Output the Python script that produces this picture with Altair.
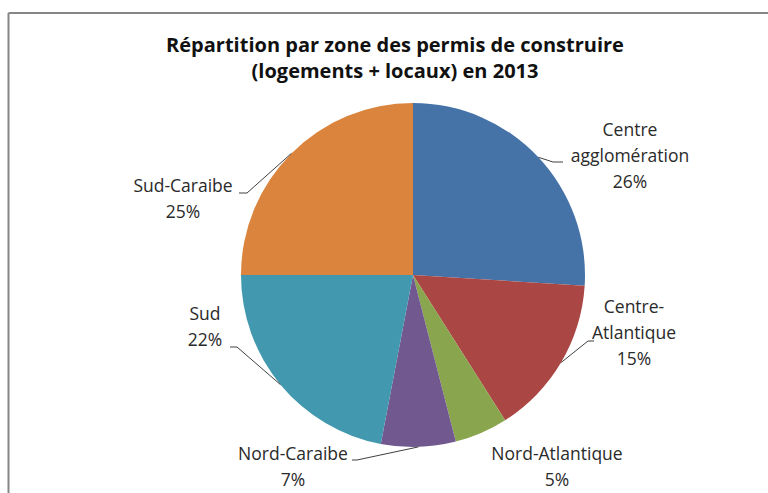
import math

import altair as alt
import pandas as pd

# ---- data -------------------------------------------------------------
zones = [
    "Centre agglomération",
    "Centre-Atlantique",
    "Nord-Atlantique",
    "Nord-Caraibe",
    "Sud",
    "Sud-Caraibe",
]
label_lines = [
    ["Centre", "agglomération"],
    ["Centre-", "Atlantique"],
    ["Nord-Atlantique"],
    ["Nord-Caraibe"],
    ["Sud"],
    ["Sud-Caraibe"],
]
shares = [26, 15, 5, 7, 22, 25]
colors = ["#4572A7", "#AA4643", "#89A54E", "#71588F", "#4198AF", "#DB843D"]
title_lines = ["Répartition par zone des permis de construire", "(logements + locaux) en 2013"]

# ---- layout -----------------------------------------------------------
W, H = 768, 493
CX, CY, R = 413, 275, 172
FONT = "Open Sans"
LINE_H = 26

# label block centres, relative to the pie centre
label_offset = {
    "Centre agglomération": (217, -118),
    "Centre-Atlantique": (221, 59),
    "Nord-Atlantique": (144, 193),
    "Nord-Caraibe": (-120, 193),
    "Sud": (-208, 53),
    "Sud-Caraibe": (-230, -75),
}
# leader elbow and end points, relative to the pie centre
leader_path = {
    "Centre agglomération": [(140, -113), (150, -113)],
    "Centre-Atlantique": [(175, 66), (181, 66)],
    "Nord-Caraibe": [(-56, 185), (-61, 185)],
    "Sud": [(-176, 72), (-183, 72)],
    "Sud-Caraibe": [(-166, -82), (-174, -82)],
}

# ---- tables -----------------------------------------------------------
total = sum(shares)
slices = pd.DataFrame({"zone": zones, "share": shares, "order": range(len(zones))})

labels = []
for z, lines, s in zip(zones, label_lines, shares):
    dx, dy = label_offset[z]
    text_lines = lines + [f"{s}%"]
    # the first line sits at y; shift so the block is centred on the anchor
    first_y = CY + dy - (len(text_lines) - 1) * LINE_H / 2
    labels.append({"zone": z, "text": "\n".join(text_lines), "x": CX + dx, "y": first_y})
labels = pd.DataFrame(labels)

leaders = []
running = 0
for z, s in zip(zones, shares):
    mid = (running + s / 2) / total * 2 * math.pi
    running += s
    if z not in leader_path:
        continue
    pts = [(CX + R * math.sin(mid), CY - R * math.cos(mid))]
    pts += [(CX + px, CY + py) for px, py in leader_path[z]]
    for i, (px, py) in enumerate(pts):
        leaders.append({"zone": z, "step": i, "x": px, "y": py})
leaders = pd.DataFrame(leaders)

titles = pd.DataFrame({"text": ["\n".join(title_lines)]})

# ---- marks ------------------------------------------------------------
pie = (
    alt.Chart(slices)
    .mark_arc(radius=R)
    .encode(
        theta=alt.Theta("share:Q", stack=True),
        order=alt.Order("order:Q"),
        color=alt.Color("zone:N", scale=alt.Scale(domain=zones, range=colors), legend=None),
        x=alt.value(CX),
        y=alt.value(CY),
    )
)

leader_lines = (
    alt.Chart(leaders)
    .mark_line(color="#404040", strokeWidth=1)
    .encode(
        x=alt.X("x:Q", scale=None),
        y=alt.Y("y:Q", scale=None),
        detail="zone:N",
        order="step:Q",
    )
)

label_text = (
    alt.Chart(labels)
    .mark_text(
        font=FONT,
        fontSize=17.5,
        color="#2a2a2a",
        align="center",
        baseline="middle",
        lineBreak="\n",
        lineHeight=LINE_H,
    )
    .encode(x=alt.X("x:Q", scale=None), y=alt.Y("y:Q", scale=None), text="text:N")
)

title_text = (
    alt.Chart(titles)
    .mark_text(
        font=FONT,
        fontSize=20,
        fontWeight="bold",
        color="#111111",
        align="center",
        baseline="alphabetic",
        lineBreak="\n",
        lineHeight=26,
    )
    .encode(x=alt.value(395), y=alt.value(52), text="text:N")
)

frame_left = alt.Chart(titles).mark_rule(color="#868686", strokeWidth=2).encode(
    x=alt.value(8.5), y=alt.value(13), y2=alt.value(H)
)
frame_top = alt.Chart(titles).mark_rule(color="#868686", strokeWidth=2).encode(
    x=alt.value(8.5), x2=alt.value(W), y=alt.value(13)
)

chart = (
    alt.layer(pie, leader_lines, label_text, title_text, frame_left, frame_top)
    .properties(width=W, height=H, autosize=alt.AutoSizeParams(type="none"), padding=0, background="white")
    .configure_view(stroke=None)
)

chart.save("out.html", embed_options={"renderer": "svg", "actions": False})
